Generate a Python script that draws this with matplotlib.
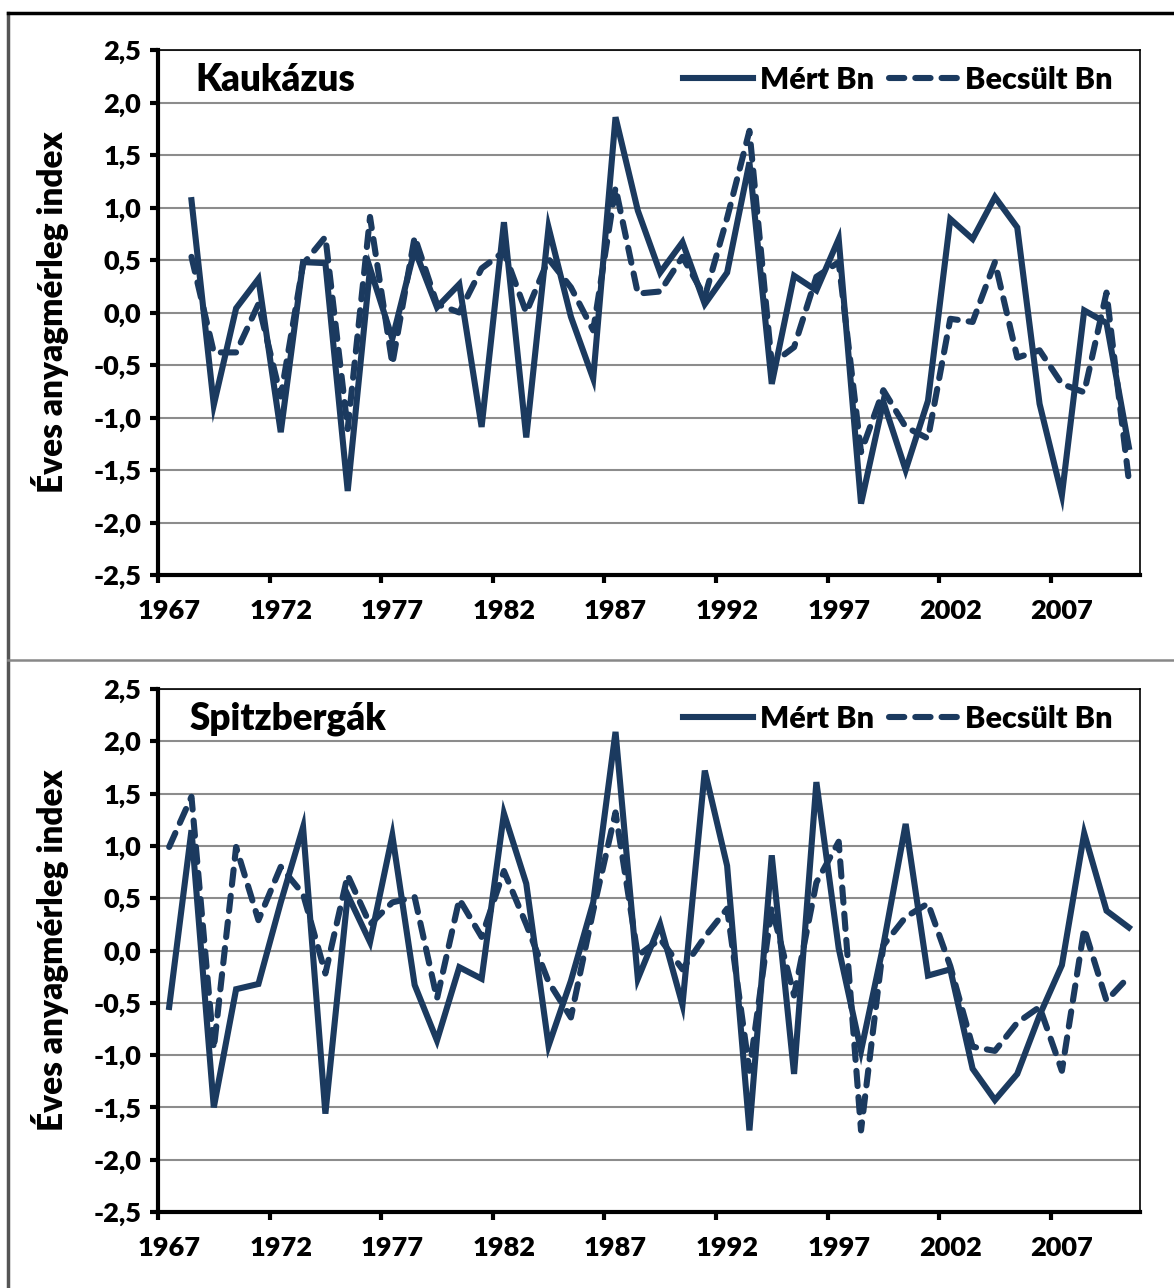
import numpy as np
import matplotlib
matplotlib.use("Agg")
import matplotlib.pyplot as plt
from matplotlib.lines import Line2D
from matplotlib.ticker import FixedLocator, FuncFormatter

plt.rcParams['font.family'] = ['Lato', 'DejaVu Sans']
plt.rcParams['font.weight'] = 'bold'

# adatok
evek_kauk = list(range(1968, 2011))
kauk_mert = [1.07, -0.88, 0.04, 0.32, -1.14, 0.48, 0.47, -1.70, 0.42, -0.25,
             0.60, 0.05, 0.27, -1.09, 0.86, -1.19, 0.81, -0.04, -0.63, 1.86,
             0.97, 0.38, 0.67, 0.08, 0.38, 1.43, -0.68, 0.35, 0.21, 0.70,
             -1.82, -0.85, -1.50, -0.84, 0.89, 0.70, 1.10, 0.81, -0.87, -1.74,
             0.02, -0.10, -1.28]
kauk_becs = [0.53, -0.38, -0.38, 0.08, -0.80, 0.46, 0.72, -1.11, 0.91, -0.49,
             0.72, 0.08, 0.00, 0.42, 0.58, 0.00, 0.51, 0.24, -0.17, 1.19,
             0.18, 0.20, 0.53, 0.15, 0.90, 1.73, -0.49, -0.33, 0.34, 0.48,
             -1.33, -0.74, -1.09, -1.20, -0.06, -0.09, 0.48, -0.43, -0.36, -0.68,
             -0.76, 0.19, -1.60]

evek_spitz = list(range(1967, 2011))
spitz_mert = [-0.54, 1.15, -1.50, -0.37, -0.32, 0.46, 1.18, -1.56, 0.53, 0.08,
              1.10, -0.33, -0.86, -0.16, -0.27, 1.31, 0.64, -0.91, -0.29, 0.46,
              2.09, -0.27, 0.25, -0.52, 1.72, 0.81, -1.72, 0.91, -1.18, 1.61,
              0.02, -0.96, 0.05, 1.21, -0.24, -0.18, -1.13, -1.43, -1.18, -0.62,
              -0.14, 1.12, 0.38, 0.22]
spitz_becs = [0.99, 1.47, -0.94, 0.99, 0.29, 0.80, 0.54, -0.22, 0.72, 0.25,
              0.46, 0.51, -0.46, 0.49, 0.13, 0.76, 0.25, -0.30, -0.64, 0.38,
              1.32, -0.05, 0.11, -0.18, 0.13, 0.40, -1.15, 0.41, -0.43, 0.65,
              1.04, -1.72, 0.05, 0.32, 0.45, -0.15, -0.92, -0.96, -0.69, -0.54,
              -1.15, 0.21, -0.48, -0.25]

ev_cimkek = [1967, 1972, 1977, 1982, 1987, 1992, 1997, 2002, 2007]
y_ertekek = np.arange(-2.5, 2.51, 0.5)

szin = '#1b3a5f'
W, H = 1174, 1288

fig = plt.figure(figsize=(W / 100, H / 100), dpi=100)


def panel(bottom_px, top_px, evek, mert, becs, cim, cim_x):
    left, right = 158, 1140
    ax = fig.add_axes([left / W, 1 - bottom_px / H, (right - left) / W, (bottom_px - top_px) / H])
    ax.plot(evek, mert, color=szin, lw=4.4, solid_joinstyle='miter', label='Mért Bn', zorder=3)
    ax.plot(evek, becs, color=szin, lw=4.4, dashes=(2.5, 1.8), dash_capstyle='round',
            label='Becsült Bn', zorder=3)
    ax.set_xlim(1966.5, 2010.5)
    ax.set_ylim(-2.5, 2.5)

    ax.set_yticks(y_ertekek)
    ax.yaxis.set_major_formatter(FuncFormatter(lambda v, p: f"{v:.1f}".replace('.', ',')))
    ax.tick_params(axis='y', direction='out', length=6, width=3, pad=6, labelsize=19.5)
    ax.grid(axis='y', color='#8c8c8c', lw=1.5, zorder=0)

    ax.xaxis.set_major_locator(FixedLocator([c - 0.5 for c in ev_cimkek]))
    ax.xaxis.set_minor_locator(FixedLocator(ev_cimkek))
    ax.xaxis.set_major_formatter(FuncFormatter(lambda v, p: ''))
    ax.xaxis.set_minor_formatter(FuncFormatter(lambda v, p: str(int(round(v)))))
    ax.tick_params(axis='x', which='major', direction='out', length=6, width=3)
    ax.tick_params(axis='x', which='minor', length=0, pad=17, labelsize=19.5)
    plt.setp(ax.get_yticklabels(), fontweight='heavy')
    plt.setp(ax.get_xticklabels(which='both'), fontweight='heavy')

    for s in ['left', 'bottom']:
        ax.spines[s].set_linewidth(3)
    for s in ['top', 'right']:
        ax.spines[s].set_linewidth(1.2)

    ax.text(cim_x, 0.943, cim, transform=ax.transAxes, fontsize=26.5, fontweight='heavy',
            ha='left', va='center')
    ax.legend(loc='center right', bbox_to_anchor=(0.9725, 0.943), ncol=2, frameon=False,
              prop={'size': 22, 'weight': 'heavy'}, handlelength=2.3,
              handletextpad=0.2, columnspacing=0.5, borderpad=0, borderaxespad=0)
    fig.text(50 / W, 1 - (top_px + bottom_px) / 2 / H, 'Éves anyagmérleg index',
             rotation=90, ha='center', va='center', fontsize=24, fontweight='heavy')
    return ax


panel(575, 50, evek_kauk, kauk_mert, kauk_becs, 'Kaukázus', 0.038)
panel(1212, 689, evek_spitz, spitz_mert, spitz_becs, 'Spitzbergák', 0.032)

# keret
fig.add_artist(Line2D([8 / W, 8 / W], [0, 1 - 13 / H], color='#555555', lw=2.5))
fig.add_artist(Line2D([8 / W, 1], [1 - 13 / H, 1 - 13 / H], color='black', lw=2.5))
fig.add_artist(Line2D([8 / W, 1], [1 - 660 / H, 1 - 660 / H], color='#888888', lw=1.8))

fig.savefig('out.png', dpi=100, facecolor='white')
